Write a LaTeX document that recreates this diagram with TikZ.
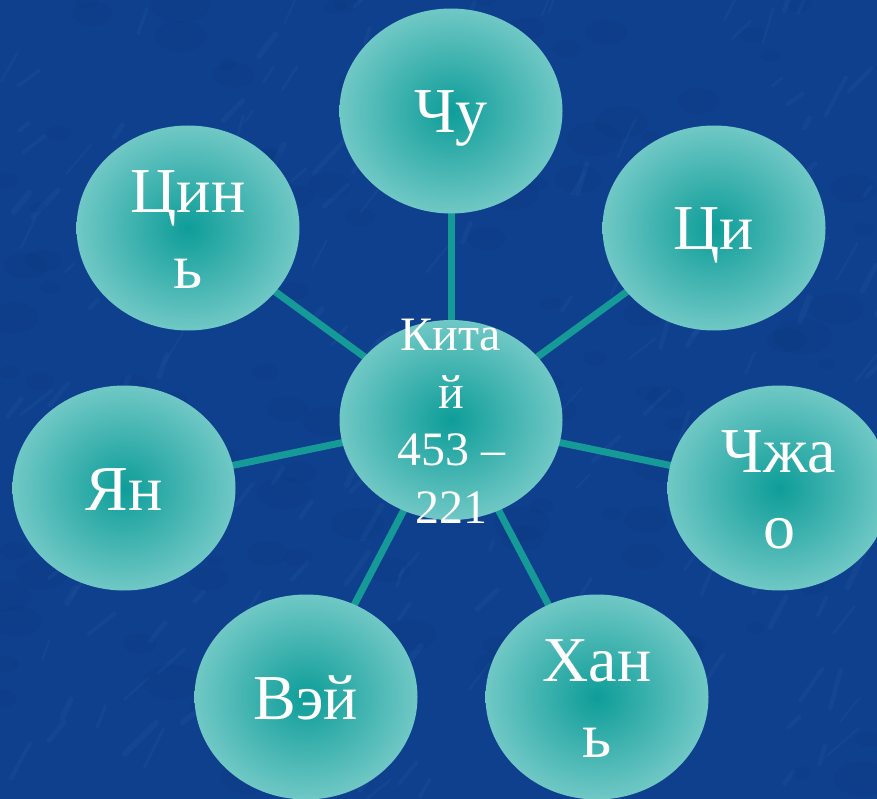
\documentclass[tikz,border=0pt]{standalone}
\usepackage{fontspec}
\setmainfont{Liberation Serif}
\usetikzlibrary{shapes.geometric}
\definecolor{bgblue}{RGB}{15,64,141}
\definecolor{streak}{RGB}{75,135,210}
\definecolor{blotch}{RGB}{8,45,110}
\definecolor{tealline}{RGB}{22,154,152}
\definecolor{tealin}{RGB}{14,157,153}
\definecolor{tealout}{RGB}{112,200,197}
\pgfdeclarelayer{back}
\pgfdeclarelayer{links}
\pgfsetlayers{back,links,main}
\newcommand\tstrut{\rule[-0.2em]{0pt}{1.1em}}
\begin{document}
\begin{tikzpicture}[x=1pt,y=-1pt,
  bubble/.style={ellipse, inner sep=0pt, minimum width=223pt, minimum height=205pt,
    inner color=tealin, outer color=tealout},
  hub/.style={bubble, minimum height=200pt},
  outtxt/.style={text=white, align=center, inner sep=0pt, font=\fontsize{64}{76}\selectfont},
  hubtxt/.style={text=white, align=center, inner sep=0pt, font=\fontsize{48}{57.5}\selectfont},
  link/.style={draw=tealline, line width=7pt}]
\useasboundingbox (0,0) rectangle (877,799);
\begin{pgfonlayer}{back}
  \fill[bgblue] (0,0) rectangle (877,799);
  \pgfmathsetseed{11}
  \foreach \i in {1,...,140}{
    \pgfmathsetmacro\xx{rnd*877}
    \pgfmathsetmacro\yy{rnd*799}
    \pgfmathsetmacro\rr{8+rnd*22}
    \fill[blotch, opacity=0.10] (\xx,\yy) circle[x radius=\rr, y radius=0.6*\rr];
  }
  \foreach \i in {1,...,200}{
    \pgfmathsetmacro\xx{rnd*877}
    \pgfmathsetmacro\yy{rnd*799}
    \pgfmathsetmacro\len{10+rnd*35}
    \pgfmathsetmacro\ang{35+rnd*40}
    \pgfmathsetmacro\lw{2+rnd*4}
    \draw[streak, opacity=0.07, line width=\lw pt, line cap=round] (\xx,\yy) -- ++(-\ang:\len);
  }
\end{pgfonlayer}
% bubbles
\node[hub] (china) at (451,420) {};
\node[bubble] (chu)  at (451,111) {};
\node[bubble] (qi)   at (714,228) {};
\node[bubble] (qin)  at (188,228) {};
\node[bubble] (yan)  at (124,488) {};
\node[bubble] (zhao) at (779,488) {};
\node[bubble] (wei)  at (306,697) {};
\node[bubble] (han)  at (597,697) {};
% connectors
\begin{pgfonlayer}{links}
  \foreach \n in {chu,qi,zhao,han,wei,yan,qin}
    \draw[link] (china.center) -- (\n.center);
\end{pgfonlayer}
% texts
\node[hubtxt] (china-t) at (china) {\tstrut Кита\\\tstrut й\\\tstrut 453 –\\\tstrut 221};
\node[outtxt] (chu-t)  at (chu)  {\tstrut Чу};
\node[outtxt] (qi-t)   at (qi)   {\tstrut Ци};
\node[outtxt] (qin-t)  at (qin)  {\tstrut Цин\\\tstrut ь};
\node[outtxt] (yan-t)  at (yan)  {\tstrut Ян};
\node[outtxt] (zhao-t) at (zhao) {\tstrut Чжа\\\tstrut о};
\node[outtxt] (wei-t)  at (wei)  {\tstrut Вэй};
\node[outtxt] (han-t)  at (han)  {\tstrut Хан\\\tstrut ь};
\end{tikzpicture}
\end{document}
